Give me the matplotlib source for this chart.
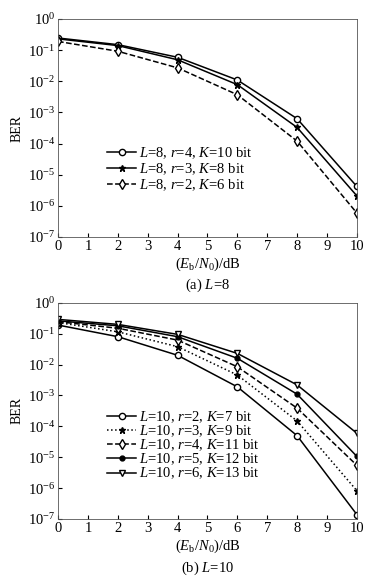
import matplotlib
matplotlib.use("Agg")
import matplotlib.pyplot as plt
from matplotlib.ticker import FixedLocator, NullLocator

plt.rcParams['font.family'] = ['Liberation Serif', 'DejaVu Serif']
plt.rcParams['mathtext.fontset'] = 'custom'
plt.rcParams['mathtext.rm'] = 'Liberation Serif'
plt.rcParams['mathtext.it'] = 'Liberation Serif:italic'
plt.rcParams['font.size'] = 9

snr = [0, 2, 4, 6, 8, 10]

# (a) L=8
a_r4 = [0.245, 0.15, 0.059, 0.011, 6.3e-4, 4.2e-6]
a_r3 = [0.23, 0.14, 0.049, 0.0078, 3.3e-4, 2.1e-6]
a_r2 = [0.19, 0.092, 0.027, 0.0037, 1.2e-4, 5.9e-7]
a_labels = ['$L$=8, $r$=4, $K$=10 bit', '$L$=8, $r$=3, $K$=8 bit', '$L$=8, $r$=2, $K$=6 bit']

# (b) L=10
b_r2 = [0.19, 0.08, 0.02, 0.0019, 5.0e-5, 1.4e-7]
b_r3 = [0.23, 0.115, 0.038, 0.0046, 1.5e-4, 8.3e-7]
b_r4 = [0.245, 0.15, 0.062, 0.0085, 3.9e-4, 5.5e-6]
b_r5 = [0.26, 0.18, 0.08, 0.016, 1.1e-3, 1.07e-5]
b_r6 = [0.29, 0.2, 0.095, 0.023, 2.2e-3, 6.0e-5]
b_labels = ['$L$=10, $r$=2, $K$=7 bit', '$L$=10, $r$=3, $K$=9 bit', '$L$=10, $r$=4, $K$=11 bit',
            '$L$=10, $r$=5, $K$=12 bit', '$L$=10, $r$=6, $K$=13 bit']

xticks = list(range(0, 11))
yexp = list(range(-7, 1))

fig = plt.figure(figsize=(3.87, 5.86), dpi=100)
ax1 = fig.add_axes([0.150, 0.5956, 0.772, 0.372])
ax2 = fig.add_axes([0.150, 0.1143, 0.772, 0.369])

def style(ax):
    ax.set_yscale('log')
    ax.set_xlim(0, 10)
    ax.set_ylim(1e-7, 1)
    ax.xaxis.set_major_locator(FixedLocator(xticks))
    ax.yaxis.set_major_locator(FixedLocator([10.0**e for e in yexp]))
    ax.yaxis.set_minor_locator(NullLocator())
    ax.set_yticklabels(['$10^{%d}$' % e for e in yexp])
    ax.tick_params(direction='in', length=3, width=0.8, labelsize=10.5, pad=2)
    for s in ax.spines.values():
        s.set_linewidth(0.6)
        s.set_color('#555555')
    ax.set_ylabel('BER', fontsize=10, labelpad=3)
    ax.set_xlabel('($E_{\\rm b}/N_0$)/dB', fontsize=10.5, labelpad=2)

mk = dict(markersize=4.5, markeredgewidth=1.0, color='black', linewidth=1.1)
ax1.plot(snr, a_r4, '-', marker='o', markerfacecolor='white', label=a_labels[0], **mk)
ax1.plot(snr, a_r3, '-', marker='*', markerfacecolor='black', label=a_labels[1], **mk)
ax1.plot(snr, a_r2, '--', marker='d', markerfacecolor='white', label=a_labels[2],
         **{**mk, 'markersize': 5})
style(ax1)
ax1.legend(loc='lower left', bbox_to_anchor=(0.14, 0.17), frameon=False, fontsize=10.5,
           handlelength=2.0, handletextpad=0.2, labelspacing=0.0, borderpad=0)
fig.text(0.536, 0.513, '(a) $L$=8', ha='center', va='center', fontsize=10.5)

ax2.plot(snr, b_r2, '-', marker='o', markerfacecolor='white', label=b_labels[0], **mk)
ax2.plot(snr, b_r3, ':', marker='*', markerfacecolor='black', label=b_labels[1], **mk)
ax2.plot(snr, b_r4, '--', marker='d', markerfacecolor='white', label=b_labels[2],
         **{**mk, 'markersize': 5})
ax2.plot(snr, b_r5, '-', marker='o', markerfacecolor='black', label=b_labels[3],
         **{**mk, 'markersize': 3.5})
ax2.plot(snr, b_r6, '-', marker='v', markerfacecolor='white', label=b_labels[4],
         **{**mk, 'markersize': 5})
style(ax2)
ax2.legend(loc='lower left', bbox_to_anchor=(0.14, 0.14), frameon=False, fontsize=10.5,
           handlelength=2.0, handletextpad=0.2, labelspacing=-0.1, borderpad=0)
fig.text(0.536, 0.030, '(b) $L$=10', ha='center', va='center', fontsize=10.5)

fig.savefig('out.png', dpi=100)
